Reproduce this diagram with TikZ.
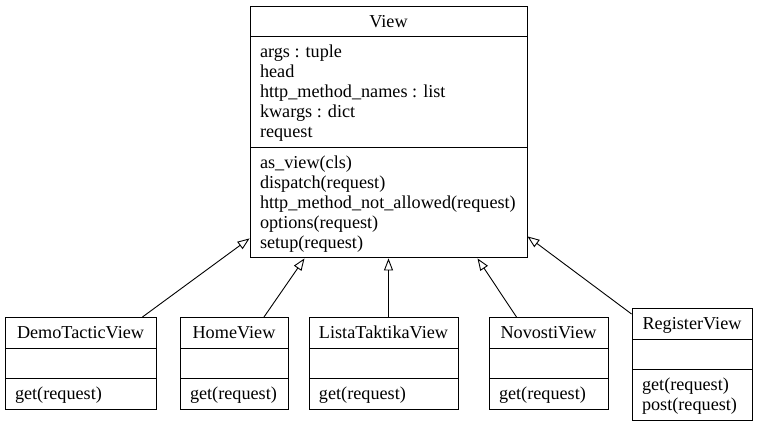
\documentclass[tikz,border=0pt]{standalone}
\usepackage{fontspec}
\setmainfont{Liberation Serif}
\usetikzlibrary{
  arrows.meta,
  positioning,
  shapes.multipart
}
\newcommand{\ustrut}{\rule[-4.4pt]{0pt}{20pt}}

\begin{document}
\begin{tikzpicture}[
  x=1pt,y=-1pt,
  umlclass/.style={draw,rectangle split,rectangle split parts=3,
                   rectangle split part align={center,left,left},
                   align=left,inner xsep=10pt,inner ysep=4.8pt,anchor=north,
                   font=\fontsize{18.2}{20}\selectfont,line width=0.9pt},
  inherit/.style={-{Triangle[open,length=12pt,width=9pt]},line width=0.9pt},
]
\useasboundingbox (0,0) rectangle (759,427);

\node[umlclass,minimum width=277pt] (view) at (388.5,6)
  {\ustrut View
   \nodepart{two}\ustrut args : tuple\\head\\http\_method\_names : list\\kwargs : dict\\request\ustrut
   \nodepart{three}\ustrut as\_view(cls)\\dispatch(request)\\http\_method\_not\_allowed(request)\\options(request)\\setup(request)\ustrut};

\node[umlclass,minimum width=151pt] (demo) at (80.5,317)
  {\ustrut DemoTacticView \nodepart{two}\ustrut \nodepart{three}\ustrut get(request)};
\node[umlclass,minimum width=108pt] (home) at (234,317)
  {\ustrut HomeView \nodepart{two}\ustrut \nodepart{three}\ustrut get(request)};
\node[umlclass,minimum width=143pt] (lista) at (383.5,317)
  {\ustrut ListaTaktikaView \nodepart{two}\ustrut \nodepart{three}\ustrut get(request)};
\node[umlclass,minimum width=119pt] (novosti) at (548.5,317)
  {\ustrut NovostiView \nodepart{two}\ustrut \nodepart{three}\ustrut get(request)};
\node[umlclass,minimum width=120pt] (register) at (692,308)
  {\ustrut RegisterView \nodepart{two}\ustrut \nodepart{three}\ustrut get(request)\\post(request)\ustrut};

\draw[inherit] ([xshift=-14pt]demo.north east) -- ([yshift=20pt]view.south west);
\draw[inherit] ([xshift=30pt]home.north) -- ([xshift=-84pt]view.south);
\draw[inherit] (lista.north -| view.south) -- (view.south);
\draw[inherit] ([xshift=-32pt]novosti.north) -- ([xshift=89pt]view.south);
\draw[inherit] ([yshift=-6pt]register.north west) -- ([yshift=22pt]view.south east);
\end{tikzpicture}
\end{document}
